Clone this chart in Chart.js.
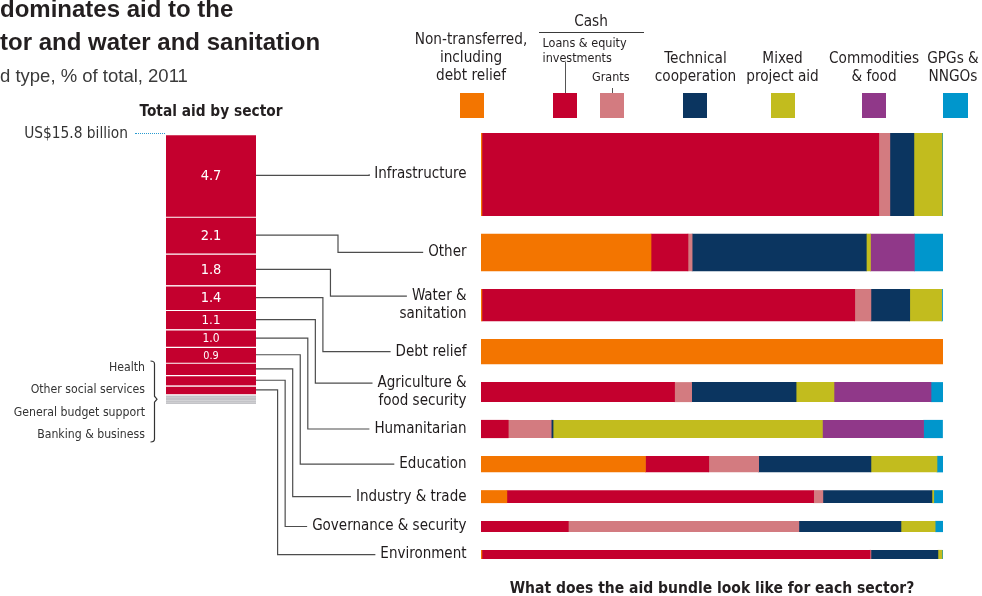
<!DOCTYPE html>
<html lang="en">
<head>
<meta charset="utf-8">
<title>Aid bundle by sector, 2011</title>
<script src="https://cdn.jsdelivr.net/npm/chart.js@4.4.1/dist/chart.umd.min.js"></script>
<style>
  html, body { margin: 0; padding: 0; background: #fff; }
  #page { position: relative; width: 982px; height: 596px; overflow: hidden; color: #231f20;
          font-family: 'DejaVu Sans Condensed', Roboto, sans-serif; }
  #page canvas { position: absolute; left: 0; top: 0; }
  .txt { position: absolute; white-space: nowrap; }
  .title { left: 0; top: -7px; font: bold 24px/32.5px 'Liberation Sans', Arial, sans-serif; }
  .subtitle { left: 0; top: 64.6px; font: 18.5px/22px 'Liberation Sans', Arial, sans-serif; color: #3a3a3a; }
  .lg { font-size: 15.2px; line-height: 18.3px; text-align: center; transform: translateX(-50%); }
  .lg-small { font-size: 12.5px; line-height: 15.6px; }
  .rule { position: absolute; background: #3a3a3a; }
  .swatch { position: absolute; top: 93px; width: 24.5px; height: 25px; }
</style>
</head>
<body>
<div id="page">
  <canvas id="columnChart" width="982" height="596"></canvas>
  <canvas id="bundleChart" width="982" height="596"></canvas>

  <div class="txt title">dominates aid to the<br>tor and water and sanitation</div>
  <div class="txt subtitle">d type, % of total, 2011</div>

  <!-- legenda -->
  <div class="txt lg" style="left:471px;top:29.6px">Non-transferred,<br>including<br>debt relief</div>
  <div class="txt lg" style="left:591px;top:11.5px">Cash</div>
  <div class="rule" style="left:539px;top:32px;width:105px;height:1px"></div>
  <div class="txt lg-small" style="left:542.5px;top:34.9px">Loans &amp; equity<br>investments</div>
  <div class="txt lg-small" style="left:592px;top:68.9px">Grants</div>
  <div class="rule" style="left:564.5px;top:62px;width:1px;height:31px;background:#555"></div>
  <div class="rule" style="left:611.5px;top:88px;width:1px;height:5px;background:#555"></div>
  <div class="txt lg" style="left:695.5px;top:48.6px">Technical<br>cooperation</div>
  <div class="txt lg" style="left:782.5px;top:48.6px">Mixed<br>project aid</div>
  <div class="txt lg" style="left:874px;top:48.6px">Commodities<br>&amp; food</div>
  <div class="txt lg" style="left:953px;top:48.6px">GPGs &amp;<br>NNGOs</div>
  <div id="swatches"></div>

  <!-- coluna da esquerda -->
  <div class="txt" style="left:211px;top:99.8px;transform:translateX(-50%);font-weight:bold;font-size:15.3px;line-height:22px">Total aid by sector</div>
  <div class="txt" style="right:854px;top:122.5px;font-size:15.3px;line-height:21.6px;color:#333">US$15.8 billion</div>
  <div class="rule" style="left:135px;top:132.5px;width:30px;height:0;background:none;border-top:1.5px dotted #2a9bd0"></div>
  <div id="smallSectors" class="txt" style="right:837px;top:355.6px;font-size:12.2px;line-height:22.6px;text-align:right;color:#333"></div>

  <div class="txt" style="left:712px;top:577.8px;transform:translateX(-50%);font-weight:bold;font-size:15.5px;line-height:20px">What does the aid bundle look like for each sector?</div>
</div>

<script>
// sectors, top to bottom
const sectors = ['Infrastructure', 'Other', 'Water & sanitation', 'Debt relief', 'Agriculture & food security',
    'Humanitarian', 'Education', 'Industry & trade', 'Governance & security', 'Environment'];
const sectorTicks = [['Infrastructure'], ['Other'], ['Water &', 'sanitation'], ['Debt relief'],
    ['Agriculture &', 'food security'], ['Humanitarian'], ['Education'], ['Industry & trade'],
    ['Governance & security'], ['Environment']];
// total aid per sector, US$ billion
const sectorTotals = [4.7, 2.1, 1.8, 1.4, 1.1, 1.0, 0.9, 0.7, 0.6, 0.5];

// small sectors at the bottom of the column (grey)
const smallSectors = ['Health', 'Other social services', 'General budget support', 'Banking & business'];
const smallTotals = [0.2, 0.15, 0.1, 0.1];

// aid types (legend order)
const aidTypes = ['Non-transferred, including debt relief', 'Loans & equity investments', 'Grants',
    'Technical cooperation', 'Mixed project aid', 'Commodities & food', 'GPGs & NNGOs'];
const aidColors = ['#f37500', '#c4002e', '#d37b80', '#0b3560', '#c2bc1e', '#903889', '#0096cc'];

// % of each sector's aid, by type (same order as sectors)
const nonTransferred = [0.2, 36.8, 0.2, 100, 0, 0, 35.6, 5.6, 0, 0.2];
const loansEquity    = [85.9, 8.0, 80.7, 0, 41.9, 5.9, 13.7, 66.4, 18.9, 84.0];
const grants         = [2.4, 0.9, 3.5, 0, 3.7, 9.3, 10.8, 2.0, 49.9, 0.2];
const technicalCoop  = [5.2, 37.7, 8.4, 0, 22.6, 0.4, 24.3, 23.6, 22.1, 14.5];
const mixedProject   = [6.1, 0.9, 6.9, 0, 8.2, 58.3, 14.3, 0.4, 7.4, 0.9];
const commodities    = [0, 9.5, 0, 0, 21.0, 21.9, 0, 0, 0, 0];
const gpgsNngos      = [0.2, 6.3, 0.2, 0, 2.6, 4.1, 1.3, 2.0, 1.7, 0.2];

const aidShares = [nonTransferred, loansEquity, grants, technicalCoop, mixedProject, commodities, gpgsNngos];

const narrow = "'DejaVu Sans Condensed', Roboto, sans-serif";
const red = '#c4002e';
const grey = '#c3c3c7';

// legend swatches
const swatchLeft = [459.5, 552.5, 599.5, 682.5, 770.5, 861.5, 943];
aidColors.forEach((c, i) => {
    const d = document.createElement('div');
    d.className = 'swatch';
    d.style.left = swatchLeft[i] + 'px';
    d.style.background = c;
    document.getElementById('swatches').appendChild(d);
});
document.getElementById('smallSectors').innerHTML = smallSectors.map(s => s.replace('&', '&amp;')).join('<br>');

//-----------------------------------------
// Left column: total aid by sector
//-----------------------------------------
const columnDatasets = [];
sectors.forEach((s, i) => {
    columnDatasets.push({
        label: s,
        data: [sectorTotals[i]],
        backgroundColor: red,
        borderWidth: { top: 1.5, right: 0, bottom: 0, left: 0 },
        showValue: sectorTotals[i] >= 0.9
    });
});
smallSectors.forEach((s, i) => {
    columnDatasets.push({
        label: s,
        data: [smallTotals[i]],
        backgroundColor: grey,
        borderWidth: { top: (i === 0 ? 1.5 : (i === 2 ? 1 : 0)), right: 0, bottom: 0, left: 0 }
    });
});
const columnTotal = sectorTotals.concat(smallTotals).reduce((a, b) => a + b, 0);

const columnNotes = {
    id: 'columnNotes',
    afterDatasetsDraw(chart) {
        const ctx = chart.ctx;
        ctx.save();
        ctx.fillStyle = '#fff';
        ctx.textAlign = 'center';
        ctx.textBaseline = 'middle';
        chart.data.datasets.forEach((ds, i) => {
            if (!ds.showValue) return;
            const bar = chart.getDatasetMeta(i).data[0];
            const h = Math.abs(bar.base - bar.y);
            const size = Math.min(14.5, h * 0.68);
            ctx.font = size + 'px ' + narrow;
            ctx.fillText(ds.data[0].toFixed(1), bar.x, (bar.y + bar.base) / 2 + 1);
        });

        // chave ao lado dos setores pequenos
        const n = chart.data.datasets.length;
        const a = chart.getDatasetMeta(sectors.length).data[0];
        const b = chart.getDatasetMeta(n - 1).data[0];
        const tipY = (Math.min(a.y, a.base) + Math.max(b.y, b.base)) / 2;
        const x = chart.chartArea.left - 11.5;
        ctx.strokeStyle = '#333';
        ctx.lineWidth = 1.2;
        ctx.beginPath();
        ctx.moveTo(x - 4, 361);
        ctx.quadraticCurveTo(x, 361, x, 364);
        ctx.lineTo(x, tipY - 3);
        ctx.lineTo(x + 2.5, tipY);
        ctx.lineTo(x, tipY + 3);
        ctx.lineTo(x, 439);
        ctx.quadraticCurveTo(x, 442, x - 4, 442);
        ctx.stroke();
        ctx.restore();
    }
};

const columnChart = new Chart(document.getElementById('columnChart'), {
    type: 'bar',
    data: { labels: ['Total'], datasets: columnDatasets },
    options: {
        responsive: false,
        animation: false,
        borderSkipped: false,
        barPercentage: 1,
        categoryPercentage: 1,
        borderColor: '#fff',
        layout: { padding: { left: 166, right: 726, top: 134, bottom: 192 } },
        plugins: { legend: { display: false }, tooltip: { enabled: false } },
        scales: {
            x: { stacked: true, display: false },
            y: { stacked: true, display: false, reverse: true, min: 0, max: columnTotal }
        }
    },
    plugins: [columnNotes]
});

//-----------------------------------------
// Right panel: aid bundle for each sector
// bar thickness follows the sector total
//-----------------------------------------
const rowGap = 1.05;
const rowCenters = [];
let acc = 0;
sectorTotals.forEach(v => {
    rowCenters.push(acc + v / 2);
    acc += v + rowGap;
});
const rowsSpan = acc - rowGap;

const bundleDatasets = [];
sectors.forEach((s, i) => {
    aidShares.forEach((shares, t) => {
        if (!shares[i]) return;
        bundleDatasets.push({
            label: aidTypes[t],
            data: [{ x: shares[i], y: rowCenters[i] }],
            backgroundColor: aidColors[t],
            rowTotal: sectorTotals[i],
            barThickness: 1
        });
    });
});

const tickFont = { family: narrow, size: 15, lineHeight: 1.2 };

const connectors = {
    id: 'connectors',
    afterDraw(chart) {
        const ctx = chart.ctx;
        const y = chart.scales.y;
        const tickRight = y.right - y.options.ticks.padding;
        const lineH = tickFont.size * tickFont.lineHeight;
        ctx.save();
        ctx.font = tickFont.size + 'px ' + narrow;
        ctx.strokeStyle = '#4d4d4d';
        ctx.lineWidth = 1.2;
        sectors.forEach((s, i) => {
            const block = columnChart.getDatasetMeta(i).data[0];
            const x0 = block.x + block.width / 2;
            const y0 = (block.y + block.base) / 2;
            const lines = sectorTicks[i];
            const y1 = y.getPixelForValue(rowCenters[i]) - (lines.length - 1) * lineH / 2;
            const x1 = tickRight - ctx.measureText(lines[0]).width - 5;
            const elbow = i === 0 ? x1 : x0 + 82 - (i - 1) * 7.55;
            ctx.beginPath();
            ctx.moveTo(x0, y0);
            ctx.lineTo(elbow, y0);
            ctx.lineTo(elbow, y1);
            ctx.lineTo(x1, y1);
            ctx.stroke();
        });
        ctx.restore();
    }
};

const bundleChart = new Chart(document.getElementById('bundleChart'), {
    type: 'bar',
    data: { datasets: bundleDatasets },
    options: {
        responsive: false,
        animation: false,
        indexAxis: 'y',
        layout: { padding: { left: 0, right: 39, top: 133, bottom: 37 } },
        plugins: { legend: { display: false }, tooltip: { enabled: false } },
        scales: {
            x: { type: 'linear', stacked: true, min: 0, max: 100, display: false },
            y: {
                type: 'linear',
                stacked: true,
                reverse: true,
                offset: false,
                min: 0,
                max: rowsSpan,
                grid: { display: false, drawTicks: false, offset: false },
                border: { display: false },
                afterFit: (scale) => {
                    scale.width = 481;
                    scale.paddingTop = 0;
                    scale.paddingBottom = 0;
                },
                afterBuildTicks: (scale) => { scale.ticks = rowCenters.map(v => ({ value: v })); },
                ticks: {
                    autoSkip: false,
                    padding: 14.5,
                    color: '#1f1b1c',
                    font: tickFont,
                    callback: (v, i) => sectorTicks[i]
                }
            }
        }
    },
    plugins: [connectors]
});

// espessura das barras proporcional ao total do setor
const ys = bundleChart.scales.y;
const pxPerUnit = Math.abs(ys.getPixelForValue(1) - ys.getPixelForValue(0));
bundleChart.data.datasets.forEach(ds => { ds.barThickness = ds.rowTotal * pxPerUnit; });
bundleChart.update('none');
</script>
</body>
</html>
